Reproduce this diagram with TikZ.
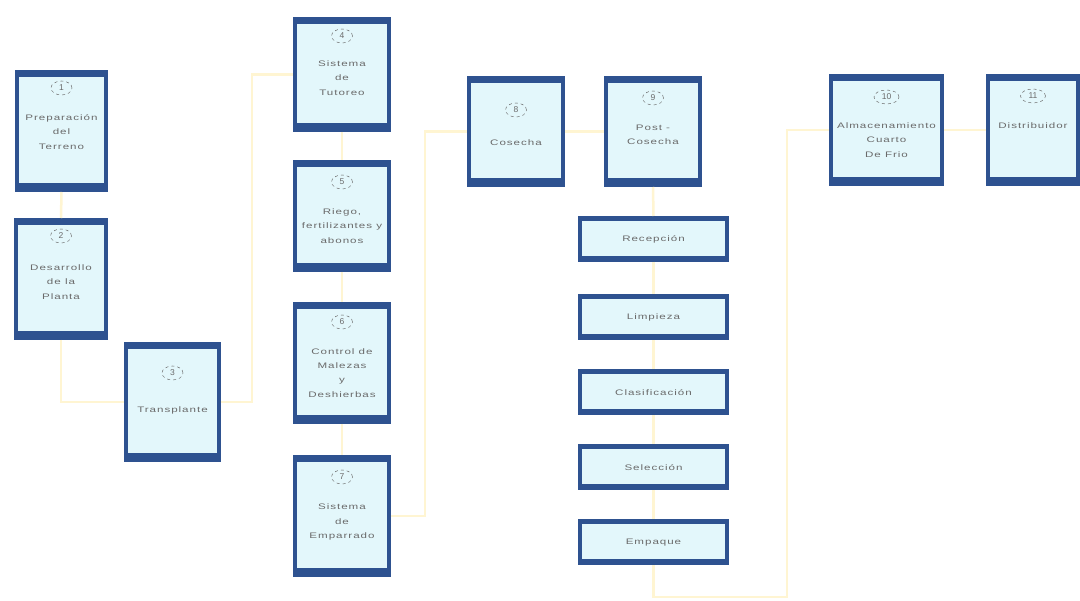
\documentclass[tikz,border=0pt]{standalone}
\usepackage{fontspec}
\setmainfont{Liberation Sans}
\newfontfamily\widefont{Liberation Sans}[FakeStretch=1.45,LetterSpace=12]
\usetikzlibrary{shapes.geometric,calc}
\definecolor{bblue}{HTML}{2E5290}
\definecolor{bfill}{HTML}{E3F7FB}
\definecolor{lnyel}{HTML}{FFF5D2}
\definecolor{txgray}{HTML}{6A6A6A}
\newcommand\boxbands[1]{%
  \fill[bblue] (#1.north west) rectangle ([yshift=-7pt]#1.north east);
  \fill[bblue] (#1.south west) rectangle ([yshift=9pt]#1.south east);}
\begin{document}
\begin{tikzpicture}[x=1pt,y=-1pt,
  pbox/.style={draw=bblue,fill=bfill,line width=4pt,inner sep=0pt},
  subbox/.style={pbox,minimum width=147pt,minimum height=42pt,
     font=\widefont\fontsize{8}{10}\selectfont,text=txgray},
  numc/.style={ellipse,draw=txgray,dashed,line width=0.5pt,inner sep=0.5pt,
     minimum width=21pt,minimum height=14pt,text=txgray,
     font=\fontsize{8.5}{9}\selectfont},
  btxt/.style={align=center,text=txgray,inner sep=0pt,
     font=\widefont\fontsize{8}{14.2}\selectfont},
  conn/.style={draw=lnyel,line width=2.5pt}]
\useasboundingbox (0,0) rectangle (1080,601);
\fill[white] (0,0) rectangle (1080,601);

% connectors
\coordinate (j1) at (252,0);
\coordinate (j2) at (425,0);
\coordinate (j3) at (787,597);

% main boxes
\node[pbox,minimum width=89pt,minimum height=118pt] (b1) at (61.5,131) {};
\node[pbox,minimum width=90pt,minimum height=118pt] (b2) at (61,279) {};
\node[pbox,minimum width=93pt,minimum height=116pt] (b3) at (172.5,402) {};
\node[pbox,minimum width=94pt,minimum height=111pt] (b4) at (342,74.5) {};
\node[pbox,minimum width=94pt,minimum height=108pt] (b5) at (342,216) {};
\node[pbox,minimum width=94pt,minimum height=118pt] (b6) at (342,363) {};
\node[pbox,minimum width=94pt,minimum height=118pt] (b7) at (342,516) {};
\node[pbox,minimum width=94pt,minimum height=107pt] (b8) at (516,131.5) {};
\node[pbox,minimum width=94pt,minimum height=107pt] (b9) at (653,131.5) {};
\node[pbox,minimum width=111pt,minimum height=108pt] (b10) at (886.5,130) {};
\node[pbox,minimum width=90pt,minimum height=108pt] (b11) at (1033,130) {};
\foreach \b in {b1,b2,b3,b4,b5,b6,b7,b8,b9,b10,b11}{\boxbands{\b}}

% sub boxes
\node[subbox] (s1) at (653.5,239) {Recepción};
\node[subbox] (s2) at (653.5,317.5) {Limpieza};
\node[subbox] (s3) at (653.5,392.5) {Clasificación};
\node[subbox] (s4) at (653.5,467.5) {Selección};
\node[subbox] (s5) at (653.5,542.5) {Empaque};
\foreach \b in {s1,s2,s3,s4,s5}{%
  \fill[bblue] (\b.north west) rectangle ([yshift=-5pt]\b.north east);
  \fill[bblue] (\b.south west) rectangle ([yshift=6pt]\b.south east);}

% numbers
\node[numc] (n1) at (61.5,88) {1};
\node[numc] (n2) at (61,236) {2};
\node[numc] (n3) at (172.5,373) {3};
\node[numc] (n4) at (342,36) {4};
\node[numc] (n5) at (342,182) {5};
\node[numc] (n6) at (342,322) {6};
\node[numc] (n7) at (342,477) {7};
\node[numc] (n8) at (516,110) {8};
\node[numc] (n9) at (653,98) {9};
\node[numc,minimum width=25pt] (n10) at (886.5,97) {10};
\node[numc,minimum width=25pt] (n11) at (1033,96) {11};

% texts
\node[btxt] (t1) at (61.5,132) {Preparación\\del\\Terreno};
\node[btxt] (t2) at (61,282) {Desarrollo\\de la\\Planta};
\node[btxt] (t3) at (172.5,410) {Transplante};
\node[btxt] (t4) at (342,78) {Sistema\\de\\Tutoreo};
\node[btxt] (t5) at (342,226) {Riego,\\fertilizantes y\\abonos};
\node[btxt] (t6) at (342,373) {Control de\\Malezas\\y\\Deshierbas};
\node[btxt] (t7) at (342,522) {Sistema\\de\\Emparrado};
\node[btxt] (t8) at (516,143) {Cosecha};
\node[btxt] (t9) at (653,135) {Post -\\Cosecha};
\node[btxt] (t10) at (886.5,140) {Almacenamiento\\Cuarto\\De Frio};
\node[btxt] (t11) at (1033,126) {Distribuidor};

\draw[conn] (b1.south) -- (b2.north);
\draw[conn] (b2.south) |- (b3.west);
\draw[conn] (b3.east) -- (b3.east -| j1) |- (b4.west);
\draw[conn] (b4.south) -- (b5.north);
\draw[conn] (b5.south) -- (b6.north);
\draw[conn] (b6.south) -- (b7.north);
\draw[conn] (b7.east) -- (b7.east -| j2) |- (b8.west);
\draw[conn] (b8.east) -- (b9.west);
\draw[conn] (b9.south) -- (s1.north);
\draw[conn] (s1.south) -- (s2.north);
\draw[conn] (s2.south) -- (s3.north);
\draw[conn] (s3.south) -- (s4.north);
\draw[conn] (s4.south) -- (s5.north);
\draw[conn] (s5.south) |- (j3) |- (b10.west);
\draw[conn] (b10.east) -- (b11.west);
\end{tikzpicture}
\end{document}
